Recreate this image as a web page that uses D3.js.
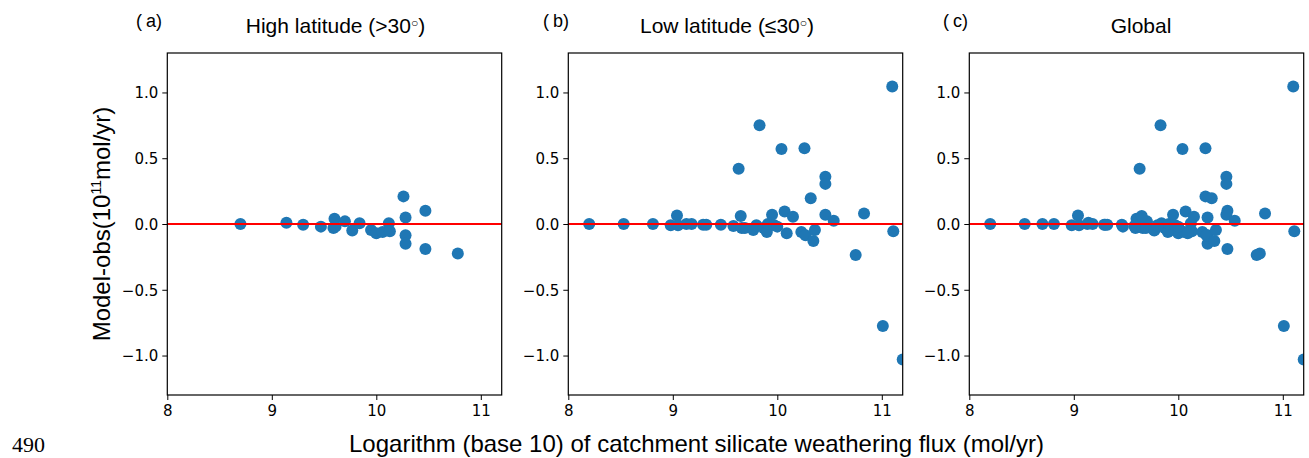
<!DOCTYPE html>
<html>
<head>
<meta charset="utf-8">
<script src="https://cdn.jsdelivr.net/npm/d3@7"></script>
<style>
body{margin:0;background:#fff;}
svg{display:block;}
.tick text{font-family:"DejaVu Sans",sans-serif;font-size:15px;fill:#000;}
</style>
</head>
<body>
<div id="graph"></div>
<script>
// values
var highLatX=[8.70,9.14,9.30,9.47,9.59,9.60,9.61,9.70,9.77,9.84,9.95,10.00,10.06,10.12,10.13,10.26,10.28,10.28,10.28,10.47,10.47,10.78];
var highLatY=[0.00,0.01,-0.005,-0.02,-0.03,0.04,-0.02,0.02,-0.05,0.005,-0.045,-0.07,-0.06,0.005,-0.055,0.21,0.05,-0.085,-0.15,0.10,-0.19,-0.225];
var lowLatX=[8.20,8.53,8.81,8.98,9.04,9.05,9.13,9.18,9.29,9.32,9.46,9.58,9.63,9.65,9.66,9.69,9.77,9.80,9.83,9.87,9.90,9.91,9.95,9.97,10.00,10.04,10.07,10.09,10.15,10.23,10.26,10.27,10.32,10.345,10.36,10.46,10.46,10.46,10.54,10.75,10.83,11.01,11.10,11.11,11.20];
var lowLatY=[0,0,0,-0.01,0.065,-0.01,0,0,-0.005,-0.005,-0.005,-0.015,0.42,0.06,-0.03,-0.03,-0.045,-0.01,0.75,-0.03,-0.06,0,0.07,-0.01,-0.02,0.57,0.095,-0.07,0.055,-0.06,0.575,-0.085,0.195,-0.13,-0.045,0.36,0.305,0.07,0.025,-0.235,0.08,-0.775,1.045,-0.055,-1.03];
// global panel = both groups together
var globalX=highLatX.concat(lowLatX);
var globalY=highLatY.concat(lowLatY);

var panelTags=['a','b','c'];
var panelTitles=['High latitude (>30','Low latitude (≤30','Global'];
var xTicks=[8,9,10,11];
var yTicks=[-1.0,-0.5,0.0,0.5,1.0];

var width=1309;
var height=458;
var svg=d3.select('#graph').append('svg').attr('width',width).attr('height',height);

var lefts=[167.3,568.3,969.3];
var titleCenters=[335.5,727,1141];
var tagLefts=[136,543,943];
var pw=334.4,plotTop=53,ph=342;

var x=d3.scaleLinear().domain([8,11.2]).range([0,pw]);
var y=d3.scaleLinear().domain([-1.3,1.3]).range([ph,0]);

var sets=[[highLatX,highLatY],[lowLatX,lowLatY],[globalX,globalY]];

sets.forEach(function(s,k){
	var g=svg.append('g').attr('transform','translate('+lefts[k]+','+plotTop+')');
	g.append('clipPath').attr('id','clip'+k).append('rect').attr('width',pw).attr('height',ph);

	var pts=s[0].map(function(v,i){return {x:v,y:s[1][i]};});
	g.append('g').attr('clip-path','url(#clip'+k+')')
		.selectAll('circle').data(pts).enter().append('circle')
		.attr('cx',function(d){return x(d.x);})
		.attr('cy',function(d){return y(d.y);})
		.attr('r',6)
		.style('fill','#1f77b4');

	g.append('line').attr('x1',0).attr('x2',pw).attr('y1',y(0)).attr('y2',y(0))
		.style('stroke','#ff0000').style('stroke-width',2);

	var xa=g.append('g').attr('transform','translate(0,'+ph+')')
		.call(d3.axisBottom(x).tickValues(xTicks).tickFormat(d3.format('d')).tickSize(5).tickPadding(5));
	var ya=g.append('g')
		.call(d3.axisLeft(y).tickValues(yTicks).tickFormat(d3.format('.1f')).tickSize(5).tickPadding(4));
	[xa,ya].forEach(function(a){
		a.select('.domain').remove();
		a.selectAll('.tick line').style('stroke','#000').style('stroke-width',1);
	});
	ya.selectAll('.tick text').attr('dy','0.36em');

	g.append('rect').attr('width',pw).attr('height',ph)
		.style('fill','none').style('stroke','#000').style('stroke-width',1.2);

	// title
	var t=svg.append('text').attr('x',titleCenters[k]).attr('y',33)
		.attr('text-anchor','middle')
		.style('font-family','"Liberation Sans",Arial,sans-serif').style('font-size','21px')
		.text(panelTitles[k]);
	if(k<2){
		t.append('tspan').attr('dy',-6).style('font-size','12px').text('○');
		t.append('tspan').attr('dy',6).text(')');
	}
	var tag=svg.append('text').attr('x',tagLefts[k]).attr('y',27)
		.style('font-family','"Liberation Sans",Arial,sans-serif').style('font-size','18px')
		.text('(');
	tag.append('tspan').attr('dx',4).text(panelTags[k]+')');
});

// y label
var yl=svg.append('text').attr('transform','translate(110,224) rotate(-90)')
	.attr('text-anchor','middle')
	.style('font-family','"Liberation Sans",Arial,sans-serif').style('font-size','24px');
yl.append('tspan').text('Model-obs(10');
yl.append('tspan').attr('dy',-9).style('font-size','14px').text('11');
yl.append('tspan').attr('dy',9).text('mol/yr)');

// x label
svg.append('text').attr('x',696.5).attr('y',452).attr('text-anchor','middle')
	.style('font-family','"Liberation Sans",Arial,sans-serif').style('font-size','24px')
	.text('Logarithm (base 10) of catchment silicate weathering flux (mol/yr)');

svg.append('text').attr('x',12).attr('y',452)
	.style('font-family','"Liberation Serif","Times New Roman",serif').style('font-size','22px')
	.text('490');
</script>
</body>
</html>
